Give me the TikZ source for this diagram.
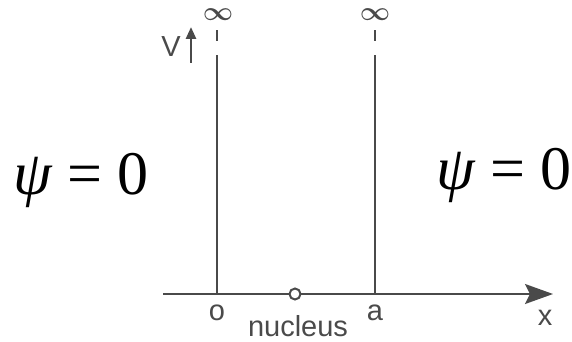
\documentclass[tikz,border=0pt]{standalone}
\usepackage{fontspec}
\setmainfont{Liberation Serif}
\newfontfamily\labfont{Liberation Sans}
\usetikzlibrary{arrows.meta}
\definecolor{ink}{HTML}{4A4A4A}
\tikzset{
  wall/.style={draw=ink, line width=2pt},
  lab/.style={text=ink, font=\labfont\fontsize{29}{29}\selectfont, inner sep=0pt},
  inf/.style={text=ink, font=\fontsize{12}{12}\selectfont\mathversion{bold}, inner sep=0pt},
  psi/.style={text=black, font=\fontsize{62}{62}\selectfont, inner sep=0pt, anchor=base}
}
\begin{document}
\begin{tikzpicture}[x=1pt,y=-1pt]
\useasboundingbox (0,0) rectangle (572,342);
% axis
\coordinate (ax0) at (163,294);
\coordinate (ax1) at (553,294);
\draw[wall, -{Stealth[length=28pt,width=20pt,inset=5pt]}] (ax0) -- (ax1);
% walls
\coordinate (lw0) at (217,294); \coordinate (lw1) at (217,55);
\coordinate (rw0) at (375,294); \coordinate (rw1) at (375,55);
\draw[wall] (lw0) -- (lw1);
\draw[wall] (rw0) -- (rw1);
\coordinate (lt0) at (217,41); \coordinate (lt1) at (217,30);
\coordinate (rt0) at (375,41); \coordinate (rt1) at (375,30);
\draw[wall] (lt0) -- (lt1);
\draw[wall] (rt0) -- (rt1);
\node[inf] (infl) at (218,21) {\scalebox{2.2}{\smash{$\infty$}}};
\node[inf] (infr) at (375,21) {\scalebox{2.2}{\smash{$\infty$}}};
% V arrow
\coordinate (va0) at (191,63); \coordinate (va1) at (191,27);
\draw[draw=ink, line width=2.6pt, -{Triangle[length=12pt,width=10pt]}] (va0) -- (va1);
\node[lab] (V) at (171,47) {V};
% nucleus
\node[draw=ink, line width=2pt, circle, minimum size=11pt, inner sep=0pt, fill=white] (nuc) at (295,294) {};
\node[lab] (o) at (217,313) {o};
\node[lab] (a) at (375,313) {a};
\node[lab] (x) at (545,318) {x};
\node[lab] (nucl) at (298,326) {nucleus};
% psi labels
\node[psi] (psil) at (81,194) {{\itshape ψ} = 0};
\node[psi] (psir) at (504,189) {{\itshape ψ} = 0};
\end{tikzpicture}
\end{document}
